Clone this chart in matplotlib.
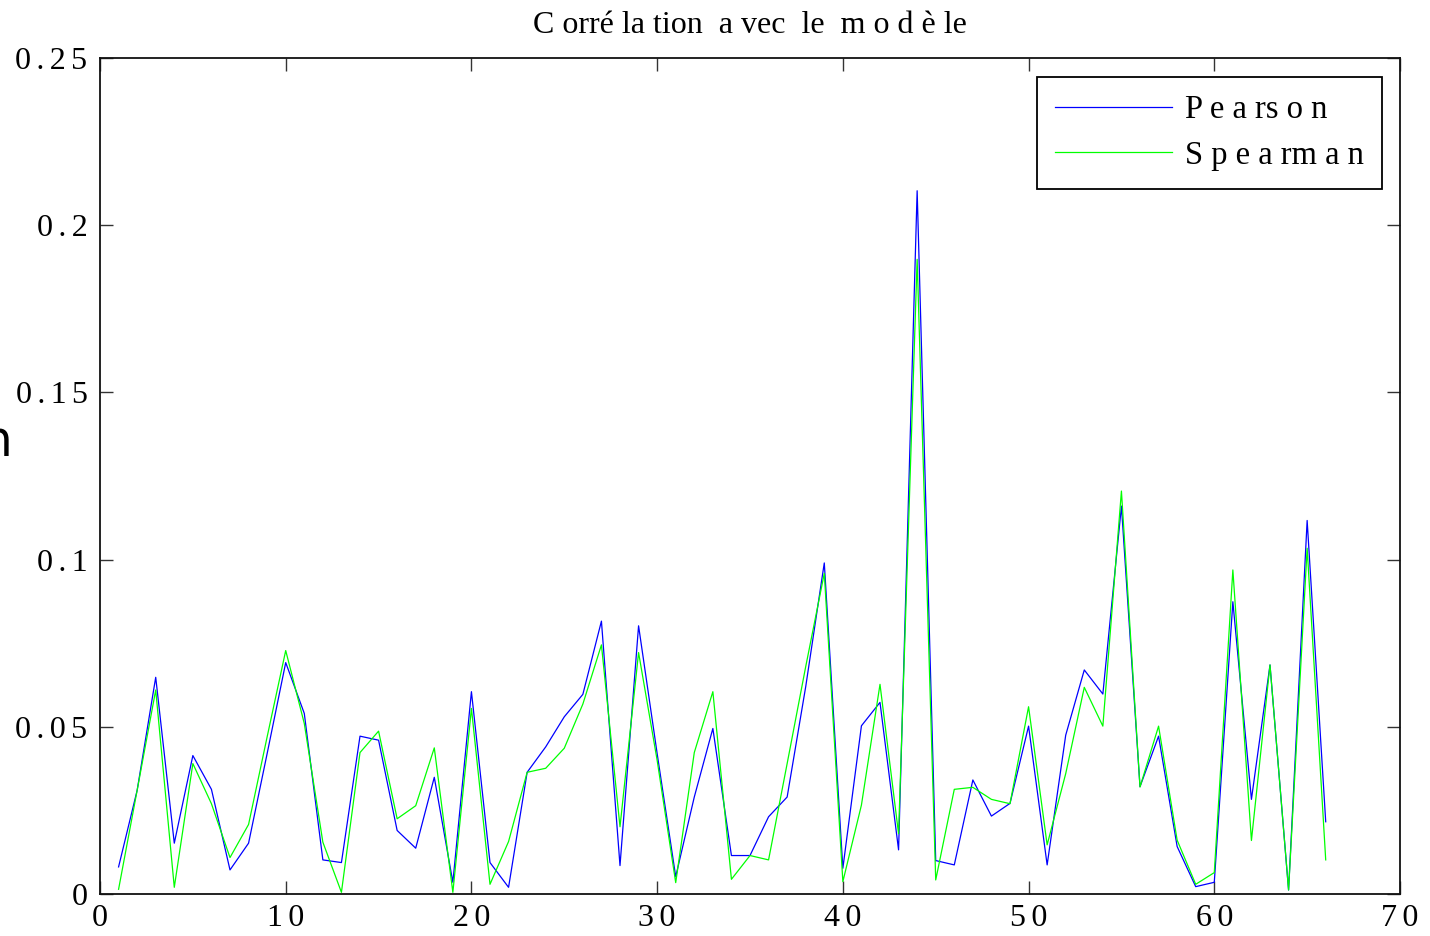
import matplotlib
matplotlib.use("Agg")
import matplotlib.pyplot as plt

# Index of each test (1..66)
index = list(range(1, 67))

pearson = [
    0.0081, 0.031, 0.0648, 0.0152, 0.0414, 0.0313, 0.0072, 0.0152, 0.042, 0.0692,
    0.054, 0.0102, 0.0094, 0.0472, 0.046, 0.019, 0.0137, 0.0349, 0.0035, 0.0605,
    0.0094, 0.002, 0.0364, 0.044, 0.053, 0.0597, 0.0816, 0.0085, 0.0802, 0.042,
    0.0052, 0.029, 0.0495, 0.0115, 0.0115, 0.0231, 0.029, 0.062, 0.099, 0.0077,
    0.0503, 0.0573, 0.0132, 0.2103, 0.010, 0.0087, 0.0341, 0.0233, 0.0271, 0.0502,
    0.0087, 0.0475, 0.067, 0.0598, 0.116, 0.0321, 0.0472, 0.0142, 0.0022, 0.0035,
    0.0874, 0.0283, 0.0685, 0.0012, 0.1117, 0.0216,
]

spearman = [
    0.0014, 0.031, 0.061, 0.002, 0.039, 0.027, 0.0109, 0.0208, 0.047, 0.0728,
    0.051, 0.0155, 0.0005, 0.0423, 0.0487, 0.0225, 0.0264, 0.0437, 0.0005, 0.0555,
    0.0029, 0.0157, 0.0364, 0.0376, 0.0436, 0.0568, 0.0745, 0.0201, 0.0722, 0.040,
    0.0034, 0.0423, 0.0605, 0.0044, 0.0115, 0.0102, 0.039, 0.068, 0.0959, 0.0037,
    0.0266, 0.0627, 0.018, 0.1898, 0.0042, 0.0313, 0.0319, 0.0283, 0.027, 0.056,
    0.0147, 0.036, 0.0618, 0.0502, 0.1205, 0.032, 0.0502, 0.0161, 0.0029, 0.0064,
    0.0969, 0.016, 0.0685, 0.0012, 0.1034, 0.0102,
]

series_labels = ["P e a rs o n", "S p e a rm a n"]
title_text = "C orré la tion  a vec  le  m o d è le"

x_ticks = [0, 10, 20, 30, 40, 50, 60, 70]
x_tick_labels = ["0", "1\u20060", "2\u20060", "3\u20060", "4\u20060",
                 "5\u20060", "6\u20060", "7\u20060"]
y_ticks = [0, 0.05, 0.1, 0.15, 0.2, 0.25]
y_tick_labels = ["0", "0\u2006.\u20060\u20065", "0\u2006.\u20061",
                 "0\u2006.\u20061\u20065", "0\u2006.\u20062",
                 "0\u2006.\u20062\u20065"]

serif = ["Liberation Serif", "DejaVu Serif"]

fig = plt.figure(figsize=(14.30, 9.36), dpi=100)
ax = fig.add_axes([100 / 1430, 42 / 936, 1300 / 1430, 836 / 936])

ax.plot(index, pearson, color="#0000ff", lw=0.9, label=series_labels[0])
ax.plot(index, spearman, color="#00ff00", lw=0.9, label=series_labels[1])

ax.set_xlim(0, 70)
ax.set_ylim(0, 0.25)
ax.set_xticks(x_ticks)
ax.set_xticklabels(x_tick_labels, fontfamily=serif, fontsize=23)
ax.set_yticks(y_ticks)
ax.set_yticklabels(y_tick_labels, fontfamily=serif, fontsize=23)

ax.tick_params(axis="both", which="major", direction="in", length=9.5,
               width=1.0, color="#333333", top=True, right=True)
ax.tick_params(axis="x", pad=7)
ax.tick_params(axis="y", pad=9)

for sp in ax.spines.values():
    sp.set_linewidth(1.3)
    sp.set_color("#111111")

ax.set_title(title_text, fontfamily=serif, fontsize=23, pad=18)

leg = ax.legend(loc="upper right", bbox_to_anchor=(1382 / 1430, (936 - 77) / 936),
                bbox_transform=fig.transFigure, prop={"family": serif, "size": 23.5},
                handlelength=3.6, handletextpad=0.4, labelspacing=0.45,
                borderpad=0.55, borderaxespad=0.0, fancybox=False, framealpha=1.0)
leg.get_frame().set_edgecolor("black")
leg.get_frame().set_linewidth(1.3)

fig.text(12 / 1430, (936 - 456) / 936, "n", ha="right", va="baseline",
         fontfamily="DejaVu Sans", fontsize=35)

fig.savefig("out.png", dpi=100, facecolor="white")
